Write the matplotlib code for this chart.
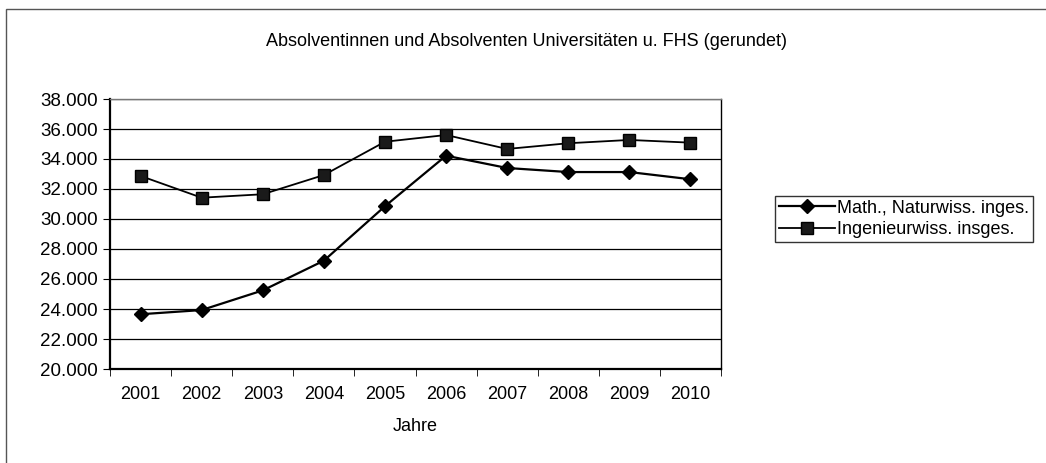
import matplotlib.pyplot as plt
from matplotlib.patches import Rectangle

plt.rcParams['font.family'] = ['Liberation Sans', 'DejaVu Sans']

jahre = ['2001', '2002', '2003', '2004', '2005', '2006', '2007', '2008', '2009', '2010']
math_nat = [23650, 23930, 25240, 27220, 30850, 34220, 33400, 33130, 33130, 32650]
ingenieur = [32870, 31420, 31650, 32930, 35150, 35600, 34670, 35050, 35270, 35090]
y_ticks = [20000, 22000, 24000, 26000, 28000, 30000, 32000, 34000, 36000, 38000]
y_labels = ['20.000', '22.000', '24.000', '26.000', '28.000', '30.000',
            '32.000', '34.000', '36.000', '38.000']

fig = plt.figure(figsize=(10.46, 4.63), dpi=100)
ax = fig.add_axes([110 / 1046, 1 - 369 / 463, 611 / 1046, 270 / 463])

x = range(len(jahre))
ax.plot(x, math_nat, color='black', lw=1.6, marker='D', markersize=7.5,
        label='Math., Naturwiss. inges.')
ax.plot(x, ingenieur, color='black', lw=1.3, marker='s', markersize=9,
        markerfacecolor='#1a1a1a', label='Ingenieurwiss. insges.')

ax.set_xlim(-0.5, len(jahre) - 0.5)
ax.set_ylim(20000, 38000)
ax.set_yticks(y_ticks)
ax.set_yticklabels(y_labels)
ax.set_xticks(list(x))
ax.set_xticklabels(jahre)
ax.set_xticks([i - 0.5 for i in range(len(jahre) + 1)], minor=True)
ax.tick_params(axis='x', which='major', length=0, labelsize=13, pad=12)
ax.tick_params(axis='x', which='minor', length=5, direction='out')
ax.tick_params(axis='y', length=5, direction='out', labelsize=13.5, pad=4)
ax.yaxis.grid(True, color='black', lw=0.9)
ax.set_axisbelow(True)
for s in ax.spines.values():
    s.set_color('black')
    s.set_linewidth(1)
ax.spines['left'].set_linewidth(1.6)
ax.spines['bottom'].set_linewidth(1.6)
ax.spines['top'].set_color('#777777')

ax.set_xlabel('Jahre', fontsize=13, labelpad=11)
fig.text(527 / 1046, 1 - 41 / 463, 'Absolventinnen und Absolventen Universitäten u. FHS (gerundet)',
         ha='center', va='center', fontsize=13)

leg = ax.legend(loc='center left', bbox_to_anchor=(775 / 1046, 1 - 219 / 463),
                bbox_transform=fig.transFigure, fontsize=13, frameon=True,
                fancybox=False, edgecolor='black', handlelength=3.1,
                handletextpad=0.15, borderpad=0.2, labelspacing=0.25, borderaxespad=0)
leg.get_frame().set_linewidth(1)

fig.patches.append(Rectangle((6 / 1046, -0.5), 1.2, 1.5 - 9 / 463, transform=fig.transFigure,
                             fill=False, edgecolor='#555555', lw=1))

fig.savefig('out.png', dpi=100)
